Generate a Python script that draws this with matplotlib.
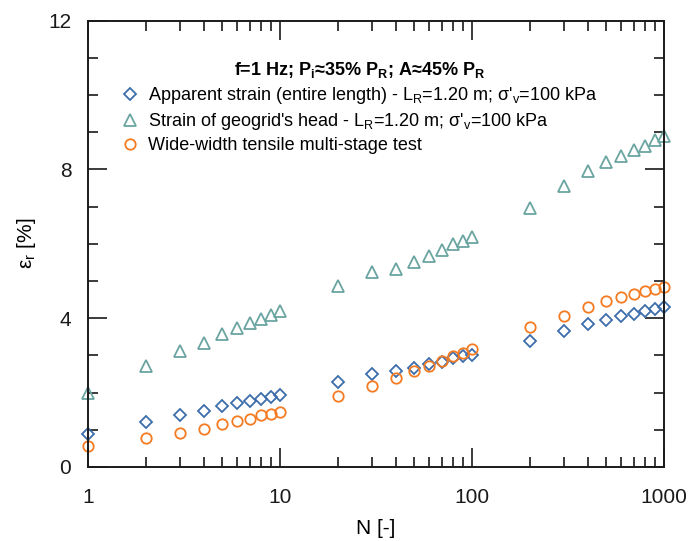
import matplotlib
matplotlib.use('Agg')
import matplotlib.pyplot as plt
from matplotlib.ticker import FixedLocator, MultipleLocator, FuncFormatter

plt.rcParams['font.family'] = ['Liberation Sans', 'DejaVu Sans']
plt.rcParams['mathtext.fontset'] = 'custom'
plt.rcParams['mathtext.rm'] = 'Liberation Sans'
plt.rcParams['mathtext.it'] = 'Liberation Sans:italic'
plt.rcParams['mathtext.bf'] = 'Liberation Sans:bold'

# number of cycles
N = [1, 2, 3, 4, 5, 6, 7, 8, 9, 10,
     20, 30, 40, 50, 60, 70, 80, 90, 100,
     200, 300, 400, 500, 600, 700, 800, 900, 1000]

# apparent strain (entire length)
apparent = [0.88, 1.20, 1.39, 1.51, 1.63, 1.71, 1.77, 1.83, 1.89, 1.94,
            2.29, 2.50, 2.57, 2.67, 2.77, 2.83, 2.92, 2.99, 3.01,
            3.38, 3.65, 3.83, 3.95, 4.05, 4.12, 4.20, 4.25, 4.30]

# strain of geogrid's head
head = [1.99, 2.72, 3.12, 3.34, 3.57, 3.73, 3.88, 3.99, 4.09, 4.20,
        4.86, 5.24, 5.31, 5.50, 5.67, 5.84, 6.00, 6.08, 6.18,
        6.95, 7.54, 7.95, 8.19, 8.35, 8.51, 8.64, 8.80, 8.89]

# wide-width tensile multi-stage test
wide = [0.56, 0.79, 0.92, 1.03, 1.15, 1.23, 1.28, 1.39, 1.43, 1.48,
        1.91, 2.19, 2.38, 2.58, 2.72, 2.84, 2.98, 3.07, 3.16,
        3.75, 4.05, 4.29, 4.46, 4.58, 4.64, 4.73, 4.78, 4.85]

labels = ["Apparent strain (entire length) - L$_\\mathrm{R}$=1.20 m; \u03c3'$_\\mathrm{v}$=100 kPa",
          "Strain of geogrid's head - L$_\\mathrm{R}$=1.20 m; \u03c3'$_\\mathrm{v}$=100 kPa",
          "Wide-width tensile multi-stage test"]

fig = plt.figure(figsize=(6.91, 5.41), dpi=100)
ax = fig.add_axes([88 / 691, 1 - 467 / 541, 576 / 691, 446.5 / 541])

ax.plot(N, apparent, 'D', ms=6.5, mfc='none', mec='#3d6dab', mew=1.3, label=labels[0], clip_on=False)
ax.plot(N, head, '^', ms=8, mfc='none', mec='#6aa5a1', mew=1.3, label=labels[1], clip_on=False)
ax.plot(N, wide, 'o', ms=7.5, mfc='none', mec='#f47b22', mew=1.3, label=labels[2], clip_on=False)

ax.set_xscale('log')
ax.set_xlim(1, 1000)
ax.set_ylim(0, 12)
ax.xaxis.set_major_locator(FixedLocator([1, 10, 100, 1000]))
ax.xaxis.set_minor_locator(FixedLocator([m * d for d in (1, 10, 100) for m in range(2, 10)]))
ax.xaxis.set_major_formatter(FuncFormatter(lambda v, p: '%g' % v))
ax.xaxis.set_minor_formatter(FuncFormatter(lambda v, p: ''))
ax.yaxis.set_major_locator(MultipleLocator(4))
ax.yaxis.set_minor_locator(MultipleLocator(1))

ax.tick_params(which='both', direction='in', top=True, right=True, width=1.2, colors='#1a1a1a')
ax.tick_params(which='major', length=14, labelsize=15, pad=12)
ax.tick_params(axis='x', which='major', pad=15)
ax.tick_params(which='minor', length=7)
for s in ax.spines.values():
    s.set_linewidth(1.4)
    s.set_color('#1a1a1a')

ax.set_xlabel('N [-]', fontsize=15, labelpad=9)
ax.set_ylabel('\u03b5$_\\mathrm{r}$ [%]', fontsize=15, labelpad=7)

leg = ax.legend(loc='upper left', bbox_to_anchor=(0.058, 0.912), frameon=False,
                fontsize=13, handlelength=1.0, handletextpad=0.5, labelspacing=0.28,
                borderpad=0, borderaxespad=0,
                title="f=1 Hz; P$_\\mathbf{i}$\u224835% P$_\\mathbf{R}$; A\u224845% P$_\\mathbf{R}$",
                title_fontproperties={'size': 13, 'weight': 'bold'})

fig.savefig('out.png', dpi=100)
